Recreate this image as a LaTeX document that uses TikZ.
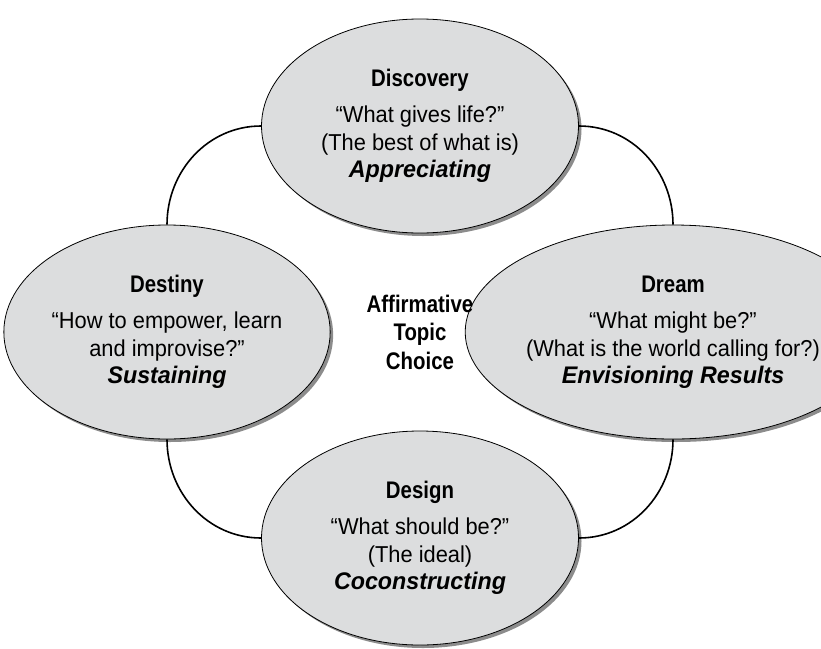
\documentclass[tikz,border=0pt]{standalone}
\usepackage{fontspec}
\setmainfont{Liberation Sans}[UprightFeatures={FakeStretch=0.95}, BoldItalicFeatures={FakeStretch=0.97}]
\newfontfamily\headfont{Liberation Sans}[FakeStretch=0.85]
\usetikzlibrary{shapes.geometric,shadows,positioning}

\definecolor{phasefill}{HTML}{DCDDDE}
\definecolor{phaseshadow}{HTML}{8C8C8C}

\newcommand{\phasehead}[1]{{\headfont\bfseries\fontsize{24}{27.5}\selectfont #1}}
\newcommand{\phaseverb}[1]{{\bfseries\itshape\fontsize{24}{27.5}\selectfont #1}}

\tikzset{
  phase/.style={ellipse, draw, line width=0.8pt, fill=phasefill,
    minimum width=317pt, minimum height=214pt, inner sep=0pt, align=center,
    font=\fontsize{23}{27.5}\selectfont,
    drop shadow={fill=phaseshadow, opacity=1, shadow xshift=3pt, shadow yshift=-3pt}},
  loopline/.style={line width=1.6pt}
}

\begin{document}
\begin{tikzpicture}[x=1pt, y=1pt, on grid]
        \useasboundingbox (0,-648) rectangle (821,0);
        \node[phase] (disc) at (420,-126) {\phasehead{Discovery}\\[9pt]“What gives life?”\\(The best of what is)\\\phaseverb{Appreciating}};
        \node[phase] (dest) [below left = 206pt and 253pt of disc] {\phasehead{Destiny}\\[9pt]“How to empower, learn\\and improvise?”\\\phaseverb{Sustaining}};
        \node[phase] (dream) [below right = 206pt and 253pt of disc] {\phasehead{Dream}\\[9pt]“What might be?”\\(What is the world calling for?)\\\phaseverb{Envisioning Results}};
        \node[phase] (design) [below = 412pt of disc] {\phasehead{Design}\\[9pt]“What should be?”\\(The ideal)\\\phaseverb{Coconstructing}};
        \node[align=center, font=\headfont\bfseries\fontsize{24}{28.5}\selectfont] (topic) [below = 206pt of disc] {Affirmative\\Topic\\Choice};
        \draw[loopline] (disc.west) to[out=180, in=90] (dest.north);
        \draw[loopline] (disc.east) to[out=0, in=90] (dream.north);
        \draw[loopline] (dest.south) to[out=-90, in=180] (design.west);
        \draw[loopline] (dream.south) to[out=-90, in=0] (design.east);
\end{tikzpicture}
\end{document}
